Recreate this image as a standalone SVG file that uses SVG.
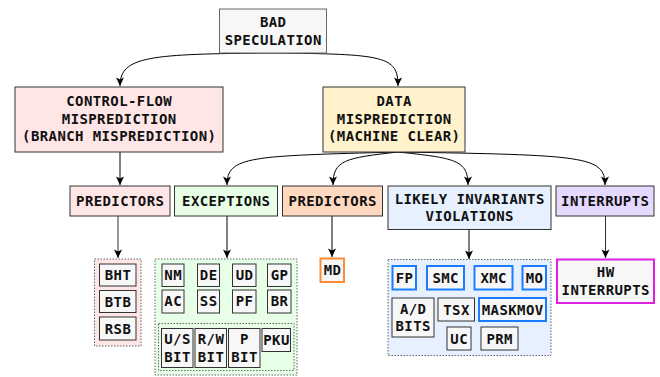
<svg xmlns="http://www.w3.org/2000/svg" width="660" height="377" viewBox="0 0 660 377">
<defs>
<marker id="arr" markerUnits="userSpaceOnUse" markerWidth="10" markerHeight="10" viewBox="0 0 10 10" refX="9" refY="5" orient="auto">
<path d="M0.5,1 L9,5 L0.5,9 L2.5,5 Z" fill="#000"/>
</marker>
<marker id="arrs" markerUnits="userSpaceOnUse" markerWidth="6" markerHeight="6" viewBox="0 0 10 10" refX="9" refY="5" orient="auto">
<path d="M0.5,1 L9,5 L0.5,9 L2.5,5 Z" fill="#000"/>
</marker>
</defs>
<style>
text{font-family:"DejaVu Sans Mono","Liberation Mono",monospace;font-weight:bold;font-size:14px;letter-spacing:0.4px;text-anchor:middle;fill:#111}
.n{stroke:#333;stroke-width:1}
.grp{stroke:#666;stroke-width:1;stroke-dasharray:1.5 1.5}
.sm{fill:#f7f7f7;stroke:#333;stroke-width:1}
.bl{fill:#f7f7f7;stroke:#1a7cff;stroke-width:2}
.c{fill:none;stroke:#000;stroke-width:1;marker-end:url(#arr)}
</style>
<rect width="660" height="377" fill="#fff"/>

<g id="connectors">
<path class="c" d="M272,53 C150,54 120,56 120,86"/>
<path class="c" d="M272,53 C385,54 398,56 398,86"/>
<path class="c" d="M120,152 L120,185"/>
<path class="c" d="M398,152 C250,156 227,156 227,185"/>
<path class="c" d="M398,152 C345,158 333,160 333,185"/>
<path class="c" d="M398,152 C455,158 468,160 468,185"/>
<path class="c" d="M398,152 C585,155 605,156 605,185"/>
<path class="c" style="stroke:#333" d="M118,216 L118,258"/>
<path class="c" d="M227,216 L227,258"/>
<path class="c" d="M332,216 L332,257"/>
<path class="c" d="M469,229.5 L469,259"/>
<path class="c" style="stroke:#333" d="M605.5,216 L605.5,258"/>
<path d="M243,313.5 L243,323" fill="none" stroke="#000" stroke-width="1" marker-end="url(#arrs)"/>
</g>

<g id="bad-speculation">
<rect x="219.5" y="9" width="107" height="44" fill="#f7f7f7" stroke="#666"/>
<text x="273.2" y="27">BAD</text>
<text x="273.2" y="44.5">SPECULATION</text>
</g>

<g id="control-flow">
<rect class="n" x="15" y="87" width="208" height="65" fill="#ffe6e6"/>
<text x="119.2" y="106">CONTROL-FLOW</text>
<text x="119.2" y="123.5">MISPREDICTION</text>
<text x="119.2" y="141">(BRANCH MISPREDICTION)</text>
</g>

<g id="data-misprediction">
<rect class="n" x="323" y="87" width="142" height="65" fill="#fff2cc"/>
<text x="394.2" y="106">DATA</text>
<text x="394.2" y="123.5">MISPREDICTION</text>
<text x="394.2" y="141">(MACHINE CLEAR)</text>
</g>

<g id="predictors-cf">
<rect class="n" x="70" y="186" width="100" height="30" fill="#ffe6e6"/>
<text x="120.2" y="206">PREDICTORS</text>
</g>

<g id="exceptions">
<rect class="n" x="174.5" y="186" width="103" height="30" fill="#e6ffe6"/>
<text x="226.2" y="206">EXCEPTIONS</text>
</g>

<g id="predictors-data">
<rect class="n" x="282.5" y="186" width="100" height="30" fill="#ffd9bf"/>
<text x="332.7" y="206">PREDICTORS</text>
</g>

<g id="likely-invariants">
<rect class="n" x="388" y="186" width="163" height="43.5" fill="#e6f0ff"/>
<text x="469.7" y="203.5">LIKELY INVARIANTS</text>
<text x="469.7" y="221">VIOLATIONS</text>
</g>

<g id="interrupts">
<rect class="n" x="556" y="186" width="98" height="30" fill="#e6d9ff"/>
<text x="605.2" y="206">INTERRUPTS</text>
</g>

<g id="branch-predictors-group">
<rect class="grp" x="94.5" y="259" width="46.5" height="87" fill="#ffe6e6"/>
<rect class="sm" x="99.5" y="264" width="36.5" height="22"/>
<text x="118" y="280">BHT</text>
<rect class="sm" x="99.5" y="290.5" width="36.5" height="22"/>
<text x="118" y="306.5">BTB</text>
<rect class="sm" x="99.5" y="317" width="36.5" height="23"/>
<text x="118" y="333.5">RSB</text>
</g>

<g id="exceptions-group">
<rect class="grp" x="155" y="259" width="142" height="116" fill="#e6ffe6"/>
<rect class="sm" x="162" y="264" width="22" height="22.5"/>
<text x="173.2" y="280">NM</text>
<rect class="sm" x="197.5" y="264" width="22" height="22.5"/>
<text x="208.7" y="280">DE</text>
<rect class="sm" x="232.5" y="264" width="23.5" height="22.5"/>
<text x="244.5" y="280">UD</text>
<rect class="sm" x="267.5" y="264" width="23.5" height="22.5"/>
<text x="279.5" y="280">GP</text>
<rect class="sm" x="162" y="290" width="22" height="23"/>
<text x="173.2" y="306">AC</text>
<rect class="sm" x="197.5" y="290" width="22" height="23"/>
<text x="208.7" y="306">SS</text>
<rect class="sm" x="232.5" y="290" width="23.5" height="23"/>
<text x="244.5" y="306">PF</text>
<rect class="sm" x="267.5" y="290" width="23.5" height="23"/>
<text x="279.5" y="306">BR</text>
<rect class="grp" x="158.5" y="323.5" width="135.5" height="47" fill="#e6ffe6"/>
<rect class="sm" x="161.5" y="328.5" width="31.5" height="39"/>
<text x="177.5" y="344">U/S</text>
<text x="177.5" y="362">BIT</text>
<rect class="sm" x="195" y="328.5" width="31.5" height="39"/>
<text x="211" y="344">R/W</text>
<text x="211" y="362">BIT</text>
<rect class="sm" x="228.5" y="328.5" width="31.5" height="39"/>
<text x="244.5" y="344">P</text>
<text x="244.5" y="362">BIT</text>
<rect class="sm" x="262" y="328.5" width="28.5" height="23"/>
<text x="276.5" y="344.5">PKU</text>
</g>

<g id="md">
<rect x="320.5" y="258.5" width="23.5" height="23.5" fill="#f7f7f7" stroke="#ff8c33" stroke-width="2"/>
<text x="332.5" y="275">MD</text>
</g>

<g id="invariants-group">
<rect class="grp" x="388" y="259.5" width="163" height="96" fill="#e6f0ff"/>
<rect class="bl" x="392.5" y="266" width="23.5" height="23.5"/>
<text x="404.5" y="282.5">FP</text>
<rect class="bl" x="427" y="266" width="37" height="23.5"/>
<text x="445.7" y="282.5">SMC</text>
<rect class="bl" x="474.5" y="266" width="38" height="23.5"/>
<text x="493.7" y="282.5">XMC</text>
<rect class="bl" x="522.5" y="266" width="23.5" height="23.5"/>
<text x="534.5" y="282.5">MO</text>
<rect class="sm" x="392" y="298" width="42" height="39"/>
<text x="413.2" y="313.5">A/D</text>
<text x="413.2" y="331">BITS</text>
<rect class="sm" x="438" y="298" width="36.5" height="23"/>
<text x="456.5" y="314.5">TSX</text>
<rect class="bl" x="479" y="298" width="67" height="23"/>
<text x="512.7" y="314.5">MASKMOV</text>
<rect class="sm" x="447" y="327" width="24" height="23"/>
<text x="459.2" y="343.5">UC</text>
<rect class="sm" x="481" y="327" width="37" height="23"/>
<text x="499.7" y="343.5">PRM</text>
</g>

<g id="hw-interrupts">
<rect x="557" y="259.5" width="97" height="43.5" fill="#f7f7f7" stroke="#e020e0" stroke-width="2"/>
<text x="605.7" y="277">HW</text>
<text x="605.7" y="294.5">INTERRUPTS</text>
</g>
</svg>
